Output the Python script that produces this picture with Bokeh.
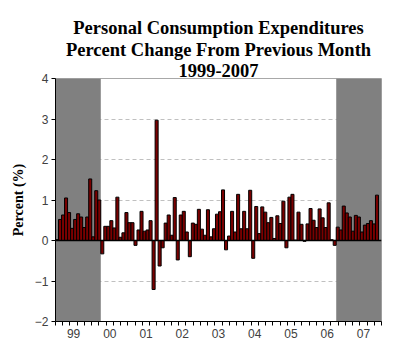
from bokeh.plotting import figure
from bokeh.models import Range1d, FixedTicker, Span, Title
from bokeh.embed import file_html
from bokeh.resources import INLINE

# Monthly % change in personal consumption expenditures, Jan 1999 - Nov 2007
pce_change = [
    0.02, 0.52, 0.63, 1.05, 0.69, 0.30, 0.52, 0.66, 0.58, 0.32, 0.58, 1.52,   # 1999
    0.09, 1.23, 1.00, -0.33, 0.35, 0.35, 0.49, 0.31, 1.07, 0.08, 0.19, 0.69,  # 2000
    0.44, 0.44, -0.12, 0.26, 0.72, 0.23, 0.26, 0.49, -1.21, 2.97, -0.63, -0.18,  # 2001
    0.43, 0.63, 0.13, 1.06, -0.48, 0.63, 0.72, 0.21, -0.40, 0.43, 0.40, 0.77,  # 2002
    0.28, 0.13, 0.76, 0.09, 0.29, 0.65, 0.71, 1.25, -0.23, 0.11, 0.72, 0.21,  # 2003
    1.14, 0.29, 0.72, 0.29, 1.24, -0.44, 0.84, 0.17, 0.83, 0.70, 0.44, 0.57,  # 2004
    0.05, 0.61, 0.42, 0.97, -0.18, 1.07, 1.14, 0.01, 0.70, 0.40, -0.02, 0.41,  # 2005
    0.79, 0.50, 0.32, 0.78, 0.56, 0.32, 0.93, 0.02, -0.12, 0.33, 0.26, 0.85,  # 2006
    0.68, 0.58, 0.23, 0.62, 0.58, 0.21, 0.38, 0.42, 0.49, 0.41, 1.12,         # 2007
]
title_lines = ["Personal Consumption Expenditures",
               "Percent Change From Previous Month",
               "1999-2007"]
year_labels = ["99", "00", "01", "02", "03", "04", "05", "06", "07"]
y_ticks = [-2, -1, 0, 1, 2, 3, 4]
grid_levels = [-1, 1, 2, 3]
# shaded periods, as month indices (0 = Jan 1999)
shade_first = [0, 93]
shade_last = [14, 107]

n_months = len(year_labels) * 12
months = list(range(len(pce_change)))

p = figure(width=400, height=351, output_backend="svg", toolbar_location=None,
           x_range=Range1d(-0.5, n_months - 0.5), y_range=Range1d(y_ticks[0], y_ticks[-1]),
           min_border_left=55, min_border_right=19, min_border_top=78, min_border_bottom=30)

def style_title(t):
    t.align = "center"
    t.text_font = "Liberation Serif"
    t.text_font_style = "bold"
    t.text_font_size = "18.5px"
    t.text_color = "black"
    t.text_line_height = 0.92
    t.standoff = 0
    t.offset = 0

# p.title is the outermost line; added titles stack outward from the plot
p.title.text = title_lines[0]
style_title(p.title)
added = []
for line in reversed(title_lines[1:]):
    t = Title(text=line)
    style_title(t)
    p.add_layout(t, "above")
    added.append(t)
added[0].standoff = 4

p.outline_line_color = "#a8a8a8"
p.background_fill_color = "white"
p.border_fill_color = "white"

# shading
p.quad(left=[s - 0.5 for s in shade_first], right=[e + 0.5 for e in shade_last],
       bottom=y_ticks[0], top=y_ticks[-1], fill_color="#808080", line_color=None)

# bars
p.vbar(x=months, top=pce_change, bottom=0, width=1,
       fill_color="#7a0000", line_color="black", line_width=1)

p.add_layout(Span(location=0, dimension="width", line_color="black", line_width=1.5))

# grid
p.xgrid.visible = False
p.ygrid.ticker = FixedTicker(ticks=grid_levels)
p.ygrid.grid_line_color = "#c0c0c0"
p.ygrid.grid_line_dash = "4 3"
p.ygrid.grid_line_width = 1

# y axis
p.yaxis.ticker = FixedTicker(ticks=y_ticks)
p.yaxis.major_label_text_font = "Liberation Sans"
p.yaxis.major_label_text_font_size = "12px"
p.yaxis.major_label_text_color = "#404040"
p.yaxis.major_tick_out = 4
p.yaxis.major_tick_in = 0
p.yaxis.minor_tick_line_color = None
p.yaxis.axis_line_color = "black"
p.yaxis.major_label_standoff = 3
p.yaxis.axis_label = "Percent (%)"
p.yaxis.axis_label_text_font = "Liberation Serif"
p.yaxis.axis_label_text_font_style = "bold"
p.yaxis.axis_label_text_font_size = "14px"
p.yaxis.axis_label_text_color = "black"
p.yaxis.axis_label_standoff = 6

# x axis: year labels centred on each year, small ticks along the axis
year_centers = [12 * k + 5.5 for k in range(len(year_labels))]
minor_positions = [-0.5 + 2.4 * j for j in range(int(n_months / 2.4) + 1)]
p.xaxis.ticker = FixedTicker(ticks=year_centers, minor_ticks=minor_positions)
p.xaxis.major_label_overrides = {c: lab for c, lab in zip(year_centers, year_labels)}
p.xaxis.major_tick_line_color = None
p.xaxis.major_tick_out = 5
p.xaxis.major_tick_in = 0
p.xaxis.minor_tick_out = 4
p.xaxis.minor_tick_in = 0
p.xaxis.minor_tick_line_color = "black"
p.xaxis.axis_line_color = "black"
p.xaxis.major_label_text_font = "Liberation Sans"
p.xaxis.major_label_text_font_size = "12px"
p.xaxis.major_label_text_color = "#404040"
p.xaxis.major_label_standoff = 2

open("out.html", "w").write(file_html(p, INLINE))
